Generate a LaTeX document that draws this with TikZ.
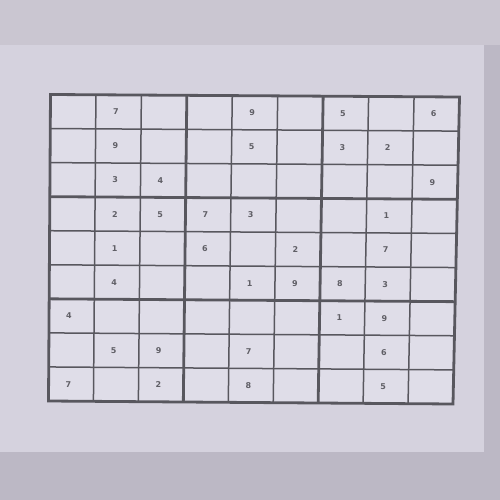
\documentclass[tikz,border=0pt]{standalone}
\usepackage{fontspec}
\setsansfont{DejaVu Sans}
\usetikzlibrary{calc}
\definecolor{bgcol}{RGB}{188,184,197}
\definecolor{topcol}{RGB}{202,198,209}
\definecolor{papercol}{RGB}{213,210,222}
\definecolor{cellcol}{RGB}{223,221,232}
\definecolor{linecol}{RGB}{88,87,94}
\definecolor{digitcol}{RGB}{96,95,102}
\tikzset{
  thinline/.style={draw=linecol, line width=1.5pt},
  boxline/.style={draw=linecol, line width=2.8pt},
  digit/.style={text=digitcol, font=\sffamily\bfseries\fontsize{8}{8}\selectfont, inner sep=0pt},
}
\newcommand{\gp}[2]{($($(TL)!#1!(TR)$)!#2!($(BL)!#1!(BR)$)$)}
\begin{document}
\begin{tikzpicture}[x=1pt,y=-1pt]
\useasboundingbox (0,0) rectangle (500,500);
\fill[bgcol] (0,0) rectangle (500,500);
\fill[topcol] (0,0) rectangle (500,45);
\fill[papercol] (0,45) rectangle (484,452);
\coordinate (TL) at (50.5,94.5);
\coordinate (TR) at (459.5,97);
\coordinate (BL) at (48.5,401);
\coordinate (BR) at (453,404);
\fill[cellcol] (TL) -- (TR) -- (BR) -- (BL) -- cycle;
% thin lines
\foreach \i in {1,2,4,5,7,8} {
  \pgfmathsetmacro{\t}{\i/9}
  \draw[thinline] \gp{\t}{0} -- \gp{\t}{1};
  \draw[thinline] \gp{0}{\t} -- \gp{1}{\t};
}
% box lines
\foreach \i in {3,6} {
  \pgfmathsetmacro{\t}{\i/9}
  \draw[boxline] \gp{\t}{0} -- \gp{\t}{1};
  \draw[boxline] \gp{0}{\t} -- \gp{1}{\t};
}
\draw[boxline, line join=miter] (TL) -- (TR) -- (BR) -- (BL) -- cycle;
% digits: row/col/value
\foreach \r/\c/\v [count=\k] in {
  1/2/7, 1/5/9, 1/7/5, 1/9/6,
  2/2/9, 2/5/5, 2/7/3, 2/8/2,
  3/2/3, 3/3/4, 3/9/9,
  4/2/2, 4/3/5, 4/4/7, 4/5/3, 4/8/1,
  5/2/1, 5/4/6, 5/6/2, 5/8/7,
  6/2/4, 6/5/1, 6/6/9, 6/7/8, 6/8/3,
  7/1/4, 7/7/1, 7/8/9,
  8/2/5, 8/3/9, 8/5/7, 8/8/6,
  9/1/7, 9/3/2, 9/5/8, 9/8/5} {
  \pgfmathsetmacro{\u}{(\c-0.56)/9}
  \pgfmathsetmacro{\w}{(\r-0.5)/9}
  \node[digit] (d\k) at \gp{\u}{\w} {\v};
}
\end{tikzpicture}
\end{document}
